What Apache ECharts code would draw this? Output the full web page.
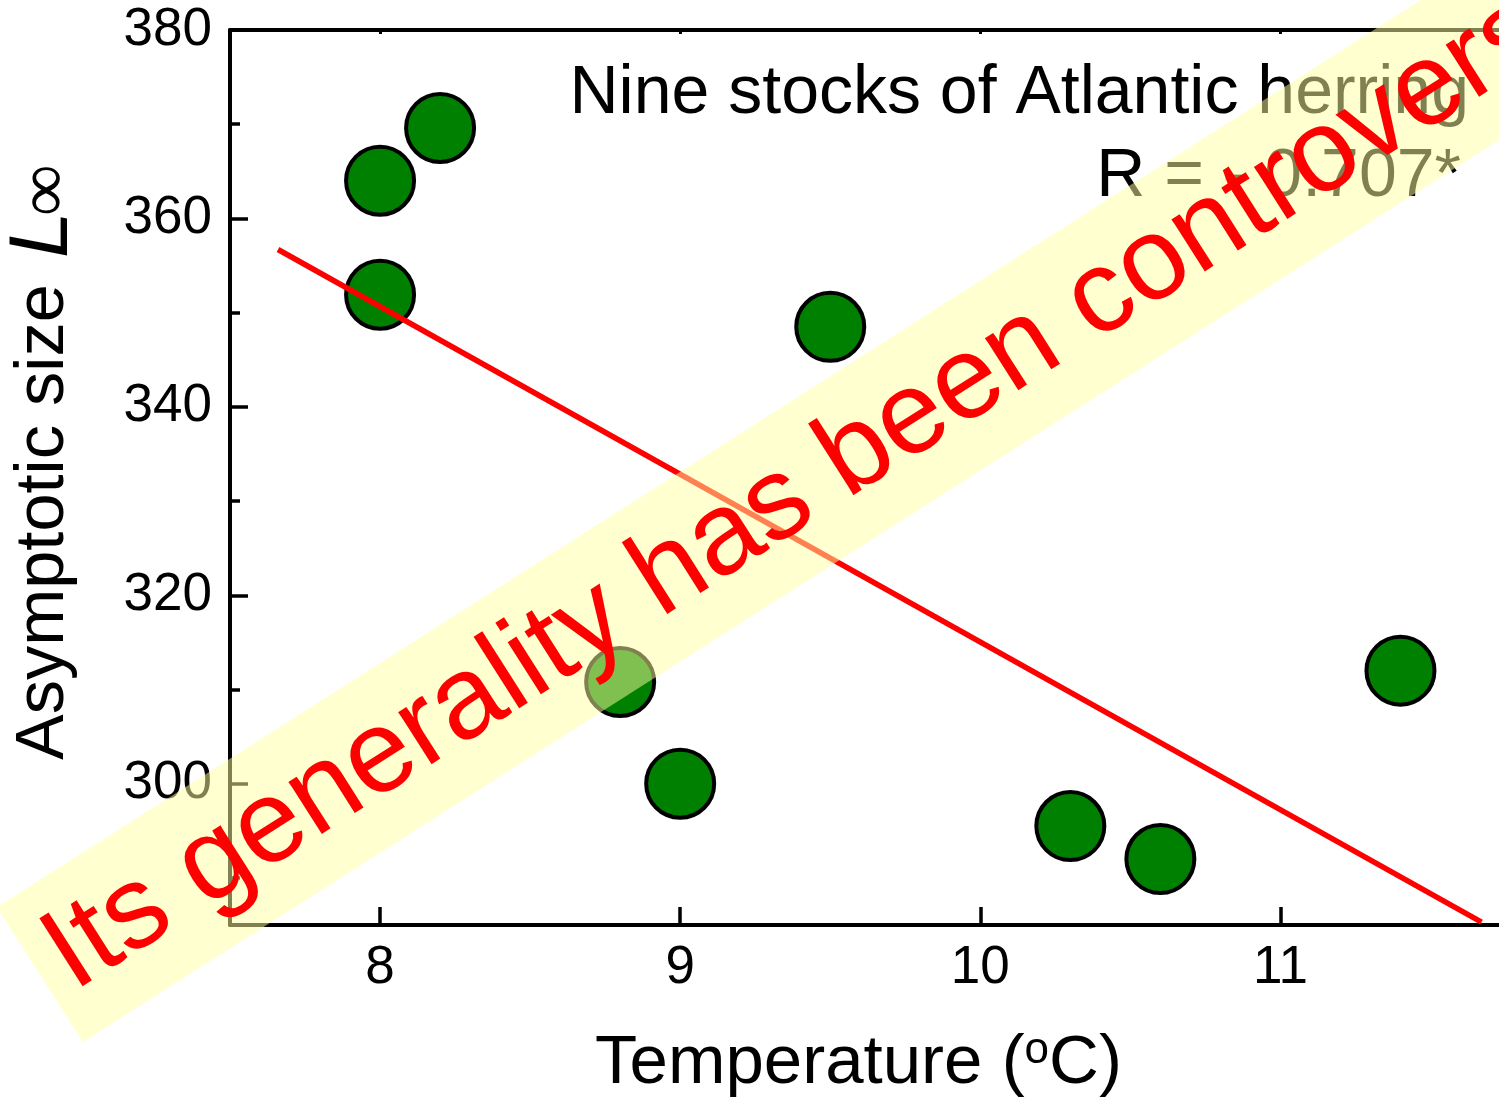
<!DOCTYPE html>
<html>
<head>
<meta charset="utf-8">
<title>Asymptotic size vs temperature – Atlantic herring</title>
<script src="https://cdn.jsdelivr.net/npm/echarts@6/dist/echarts.min.js"></script>
<style>
  html, body { margin: 0; padding: 0; background: #ffffff; }
  #chart { width: 1499px; height: 1100px; }
</style>
</head>
<body>
<div id="chart"></div>
<script>
// Mean temperature (°C) and asymptotic length L∞ of the nine herring stocks
const temperature = [8.0, 8.2, 8.0, 9.5, 8.8, 9.0, 10.3, 10.6, 11.4];
const asymptoticSize = [364.0, 369.6, 351.9, 348.5, 310.8, 300.0, 295.5, 292.0, 312.0];

// End points of the fitted regression line
const fitTemperature = [7.66, 11.67];
const fitSize = [356.7, 285.3];

// Axis ticks
const xTickValues = [8, 9, 10, 11];
const yTickValues = [300, 320, 340, 360, 380];
const yMinorTickValues = [290, 310, 330, 350, 370];

const FONT = '"Liberation Sans", Arial, Helvetica, sans-serif';
const SERIF = '"Liberation Serif", "Times New Roman", serif';

const stockPoints = temperature.map((t, i) => [t, asymptoticSize[i]]);
const fitLine = fitTemperature.map((t, i) => [t, fitSize[i]]);

const chart = echarts.init(document.getElementById('chart'), null, { renderer: 'canvas' });

const bandAngle = 32.5 * Math.PI / 180;
const upright = Math.PI / 2;

chart.setOption({
  animation: false,
  backgroundColor: '#ffffff',
  grid: {
    left: 230, top: 30, right: -2, bottom: 175,
    containLabel: false,
    outerBoundsMode: 'none'
  },
  xAxis: [
    {
      type: 'value',
      position: 'bottom',
      min: 7.5, max: 11.735,
      splitLine: { show: false },
      axisLine: { show: true, onZero: false, lineStyle: { color: '#000', width: 4 } },
      axisTick: { show: true, inside: true, length: 18, lineStyle: { color: '#000', width: 3.5 }, customValues: xTickValues },
      axisLabel: { show: true, customValues: xTickValues, fontSize: 53, fontFamily: FONT, color: '#000', margin: 17 },
      name: '{t|Temperature (}{s|o}{t|C)}',
      nameLocation: 'middle',
      nameGap: 104,
      nameTextStyle: {
        padding: [0, 14, 0, 0],
        rich: {
          t: { fontSize: 69, fontFamily: FONT, color: '#000', lineHeight: 69 },
          s: { fontSize: 44, fontFamily: FONT, color: '#000', lineHeight: 32, verticalAlign: 'top' }
        }
      }
    },
    {
      type: 'value',
      position: 'top',
      min: 7.5, max: 11.735,
      splitLine: { show: false },
      axisLine: { show: true, onZero: false, lineStyle: { color: '#000', width: 4 } },
      axisTick: { show: true, inside: true, length: 4, lineStyle: { color: '#000', width: 3 }, customValues: xTickValues },
      axisLabel: { show: false }
    }
  ],
  yAxis: [
    {
      type: 'value',
      position: 'left',
      min: 285, max: 380,
      splitLine: { show: false },
      axisLine: { show: true, onZero: false, lineStyle: { color: '#000', width: 4 } },
      axisTick: { show: true, inside: true, length: 18, lineStyle: { color: '#000', width: 3.5 }, customValues: yTickValues },
      axisLabel: { show: true, customValues: yTickValues, fontSize: 53, fontFamily: FONT, color: '#000', margin: 18 }
    },
    {
      type: 'value',
      position: 'left',
      min: 285, max: 380,
      splitLine: { show: false },
      axisLine: { show: false },
      axisTick: { show: true, inside: true, length: 10, lineStyle: { color: '#000', width: 3.5 }, customValues: yMinorTickValues },
      axisLabel: { show: false }
    }
  ],
  series: [
    {
      name: 'Stocks',
      type: 'scatter',
      xAxisIndex: 0,
      yAxisIndex: 0,
      data: stockPoints,
      symbol: 'circle',
      symbolSize: 68,
      z: 2,
      itemStyle: { color: '#008000', borderColor: '#000', borderWidth: 4, opacity: 1 },
      emphasis: { disabled: true }
    },
    {
      name: 'Fit',
      type: 'line',
      xAxisIndex: 0,
      yAxisIndex: 0,
      data: fitLine,
      showSymbol: false,
      symbol: 'none',
      clip: true,
      z: 3,
      lineStyle: { color: '#ff0000', width: 5.5 },
      emphasis: { disabled: true }
    }
  ],
  graphic: [
    // Y-axis title: "Asymptotic size L∞", reading bottom to top
    {
      type: 'text',
      x: 44.3, y: 760,
      rotation: upright,
      z: 5,
      style: {
        text: 'Asymptotic size',
        fontSize: 68.5, fontFamily: FONT, fill: '#000',
        align: 'left', verticalAlign: 'middle'
      }
    },
    {
      type: 'text',
      x: 44, y: 258,
      rotation: upright,
      z: 5,
      style: {
        text: 'L',
        fontSize: 84, fontStyle: 'italic', fontFamily: FONT, fill: '#000',
        align: 'left', verticalAlign: 'middle'
      }
    },
    {
      type: 'text',
      x: 47.7, y: 216,
      rotation: upright,
      z: 5,
      style: {
        text: '∞',
        fontSize: 72, fontFamily: SERIF, fill: '#000',
        align: 'left', verticalAlign: 'middle'
      }
    },
    // Annotation in the upper right of the plot
    {
      type: 'text',
      x: 1469, y: 94,
      z: 5,
      style: {
        text: 'Nine stocks of Atlantic herring',
        fontSize: 68, fontFamily: FONT, fill: '#000',
        align: 'right', verticalAlign: 'middle'
      }
    },
    {
      type: 'text',
      x: 1461, y: 177,
      z: 5,
      style: {
        text: 'R = - 0.707*',
        fontSize: 68, fontFamily: FONT, fill: '#000',
        align: 'right', verticalAlign: 'middle'
      }
    },
    // Diagonal highlighted banner across the plot
    {
      type: 'group',
      x: 78, y: 999,
      rotation: bandAngle,
      children: [
        {
          type: 'rect',
          z: 100,
          shape: { x: -19, y: -121, width: 2300, height: 160 },
          style: { fill: 'rgba(255,255,160,0.5)' }
        },
        {
          type: 'text',
          z: 101,
          x: 0, y: -40.5,
          style: {
            text: 'Its generality has been controversial',
            fontSize: 117, fontFamily: FONT, fill: '#ff0000',
            align: 'left', verticalAlign: 'middle'
          }
        }
      ]
    }
  ]
});
</script>
</body>
</html>
